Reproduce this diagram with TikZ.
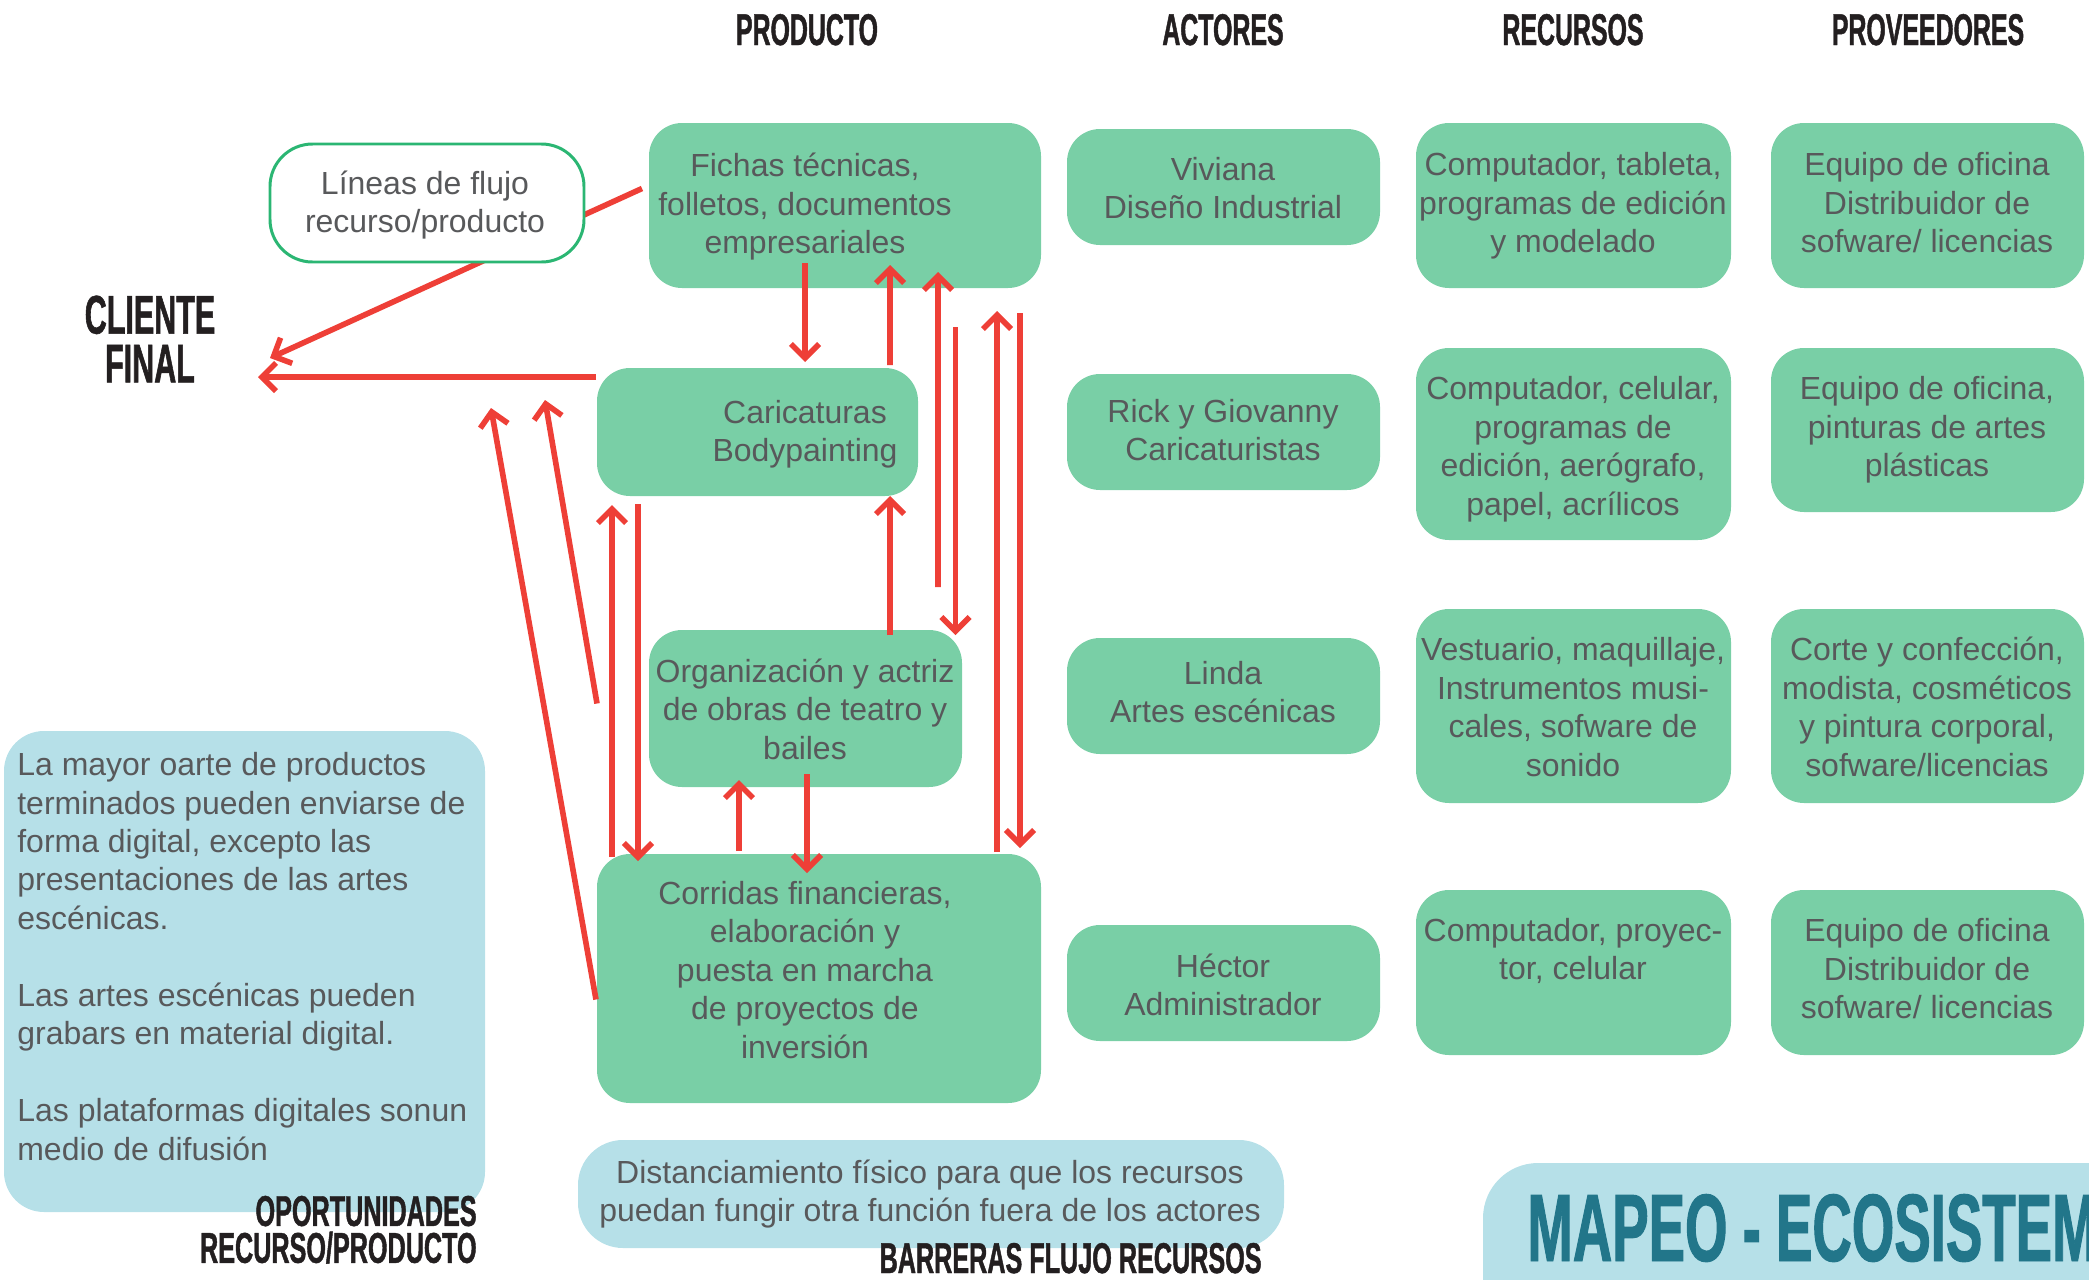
\documentclass[tikz,border=0pt]{standalone}
\usepackage{fontspec}
\setmainfont{Liberation Sans}
\newfontfamily\condfont{Liberation Sans}[FakeStretch=0.56,FakeBold=1]
\newfontfamily\condfontw{Liberation Sans}[FakeStretch=0.585,FakeBold=1]
\newfontfamily\mapeofont{Liberation Sans}[FakeStretch=0.57,FakeBold=1]
\usetikzlibrary{arrows.meta,calc,fit}
\definecolor{boxgreen}{HTML}{79CFA6}
\definecolor{boxblue}{HTML}{B6E0E8}
\definecolor{flowred}{HTML}{EE3F37}
\definecolor{txtgray}{HTML}{58595B}
\definecolor{lineagreen}{HTML}{2BB673}
\definecolor{hdrblack}{HTML}{231F20}
\definecolor{mapeoteal}{HTML}{22768A}
\begin{document}
\begin{tikzpicture}[x=0.2mm,y=-0.2mm,
 gbox/.style={fill=boxgreen, rounded corners=6.6mm, inner sep=0pt, outer sep=0pt},
 bbox/.style={fill=boxblue, inner sep=0pt, outer sep=0pt},
 txt/.style={font=\fontsize{18.2}{21.9}\selectfont, text=txtgray, align=center, inner sep=0pt},
 hdr/.style={font=\condfont\bfseries\fontsize{25.3}{21}\selectfont, text=hdrblack, inner sep=0pt},
 lbl/.style={font=\condfontw\bfseries\fontsize{24.5}{21}\selectfont, text=hdrblack, inner sep=0pt},
 flow/.style={draw=flowred, line width=3.2pt, -{Straight Barb[length=8pt,width=16pt]}}
]
\useasboundingbox (0,0) rectangle (2089,1280);

% headers
\node[hdr, anchor=base] (hprod) at (807,45) {PRODUCTO};
\node[hdr, anchor=base] (hact) at (1223,45) {ACTORES};
\node[hdr, anchor=base] (hrec) at (1573,45) {RECURSOS};
\node[hdr, anchor=base] (hprov) at (1928,45) {PROVEEDORES};
\node[hdr, font=\condfont\bfseries\fontsize{31}{27.8}\selectfont, align=center] (client) at (150,339) {CLIENTE\\FINAL};

% blue boxes
\node[bbox, rounded corners=8mm, fit={(4,731) (485,1212)}] (oport) {};
\node[txt, align=left, anchor=north west] (toport) at (17,752) {La mayor oarte de productos\\terminados pueden enviarse de\\forma digital, excepto las\\presentaciones de las artes\\escénicas.\\[21.9pt]Las artes escénicas pueden\\grabars en material digital.\\[21.9pt]Las plataformas digitales sonun\\medio de difusión};
\node[lbl, align=right, anchor=south east] (lopor) at (477,1264) {OPORTUNIDADES\\RECURSO/PRODUCTO};

\node[bbox, rounded corners=9mm, fit={(578,1140) (1284,1248)}] (dist) {};
\node[txt] (tdist) at (930,1194) {Distanciamiento físico para que los recursos\\puedan fungir otra función fuera de los actores};
\node[lbl, anchor=base east] (lbarr) at (1262,1273) {BARRERAS FLUJO RECURSOS};

\begin{scope}
\clip (0,0) rectangle (2089,1280);
\node[bbox, rounded corners=11mm, fit={(1483,1163) (2160,1340)}] (mapbox) {};
\node[anchor=base west, inner sep=0pt, text=mapeoteal, font=\mapeofont\bfseries\fontsize{54.5}{54}\selectfont] (mapeo) at (1527,1261) {MAPEO - ECOSISTEM};
\end{scope}

% producto column
\node[gbox, fit={(649,123) (1041,288)}] (fichas) {};
\node[gbox, fit={(597,368) (918,496)}] (caric) {};
\node[gbox, fit={(649,630) (962,787)}] (org) {};
\node[gbox, fit={(597,854) (1041,1103)}] (corr) {};
\node[txt] (tfichas) at (805,207) {Fichas técnicas,\\folletos, documentos\\empresariales};
\node[txt] (tcaric) at (805,434) {Caricaturas\\Bodypainting};
\node[txt] (torg) at (805,709) {Organización y actriz\\de obras de teatro y\\bailes};
\node[txt] (tcorr) at (805,970) {Corridas financieras,\\elaboración y\\puesta en marcha\\de proyectos de\\inversión};

% actores column
\node[gbox, fit={(1067,129) (1380,245)}] (viv) {};
\node[gbox, fit={(1067,374) (1380,490)}] (rick) {};
\node[gbox, fit={(1067,638) (1380,754)}] (linda) {};
\node[gbox, fit={(1067,925) (1380,1041)}] (hector) {};
\node[txt] (tviv) at (1223,188) {Viviana\\Diseño Industrial};
\node[txt] (trick) at (1223,430) {Rick y Giovanny\\Caricaturistas};
\node[txt] (tlinda) at (1223,692) {Linda\\Artes escénicas};
\node[txt] (thector) at (1223,985) {Héctor\\Administrador};

% recursos column
\node[gbox, fit={(1416,123) (1731,288)}] (rA) {};
\node[gbox, fit={(1416,348) (1731,540)}] (rB) {};
\node[gbox, fit={(1416,609) (1731,803)}] (rC) {};
\node[gbox, fit={(1416,890) (1731,1055)}] (rD) {};
\node[txt] (trA) at (1573,206) {Computador, tableta,\\programas de edición\\y modelado};
\node[txt] (trB) at (1573,449) {Computador, celular,\\programas de\\edición, aerógrafo,\\papel, acrílicos};
\node[txt] (trC) at (1573,707) {Vestuario, maquillaje,\\Instrumentos musi-\\cales, sofware de\\sonido};
\node[txt] (trD) at (1573,951) {Computador, proyec-\\tor, celular};

% proveedores column
\node[gbox, fit={(1771,123) (2084,288)}] (pA) {};
\node[gbox, fit={(1771,348) (2084,512)}] (pB) {};
\node[gbox, fit={(1771,609) (2084,803)}] (pC) {};
\node[gbox, fit={(1771,890) (2084,1055)}] (pD) {};
\node[txt] (tpA) at (1927,203) {Equipo de oficina\\Distribuidor de\\sofware/ licencias};
\node[txt] (tpB) at (1927,430) {Equipo de oficina,\\pinturas de artes\\plásticas};
\node[txt] (tpC) at (1927,707) {Corte y confección,\\modista, cosméticos\\y pintura corporal,\\sofware/licencias};
\node[txt] (tpD) at (1927,969) {Equipo de oficina\\Distribuidor de\\sofware/ licencias};

% flows to client
\coordinate (tipA) at (270,358);
\coordinate (tipB) at (258,377);
\coordinate (tipC) at (545,400);
\coordinate (tipD) at (491,408);
\draw[flow] ($(fichas.west)+(-7,-17)$) -- (tipA);
\draw[flow] ($(caric.west)+(-1,-55)$) -- (tipB);
\draw[flow] ($(org.west)+(-52,-5)$) -- (tipC);
\draw[flow] ($(corr.west)+(-1,21)$) -- (tipD);

% vertical flows
\draw[flow] ($(fichas.south)+(-40,-25)$) -- ($(caric.north)+(47.5,-6)$);
\draw[flow] ($(caric.north)+(132.5,-3)$) -- ($(fichas.south)+(45,-23)$);
\draw[flow] ($(org.north)+(132.5,-43)$) -- ($(fichas.south)+(93,-16)$);
\draw[flow] ($(fichas.south)+(110.5,39)$) -- ($(org.north)+(150,5)$);
\draw[flow] ($(corr.north)+(178,-2)$) -- ($(fichas.south)+(152,23)$);
\draw[flow] ($(fichas.south)+(175,25)$) -- ($(corr.north)+(201,-6)$);
\draw[flow] ($(org.north)+(84.5,5)$) -- ($(caric.south)+(132.5,0)$);
\draw[flow] ($(corr.north)+(-207,3)$) -- ($(caric.south)+(-145.5,9)$);
\draw[flow] ($(caric.south)+(-119.5,8)$) -- ($(corr.north)+(-181,7)$);
\draw[flow] ($(corr.north)+(-80,-3)$) -- ($(org.south)+(-66.5,-7)$);
\draw[flow] ($(org.south)+(1.5,-13)$) -- ($(corr.north)+(-12,19)$);

% legend box (over the first flow line)
\node[draw=lineagreen, line width=1.7pt, fill=white, rounded corners=8.5mm, inner sep=0pt, fit={(270,144) (584,262)}] (lineas) {};
\node[txt] (tlineas) at (425,205) {Líneas de flujo\\recurso/producto};
\end{tikzpicture}
\end{document}
